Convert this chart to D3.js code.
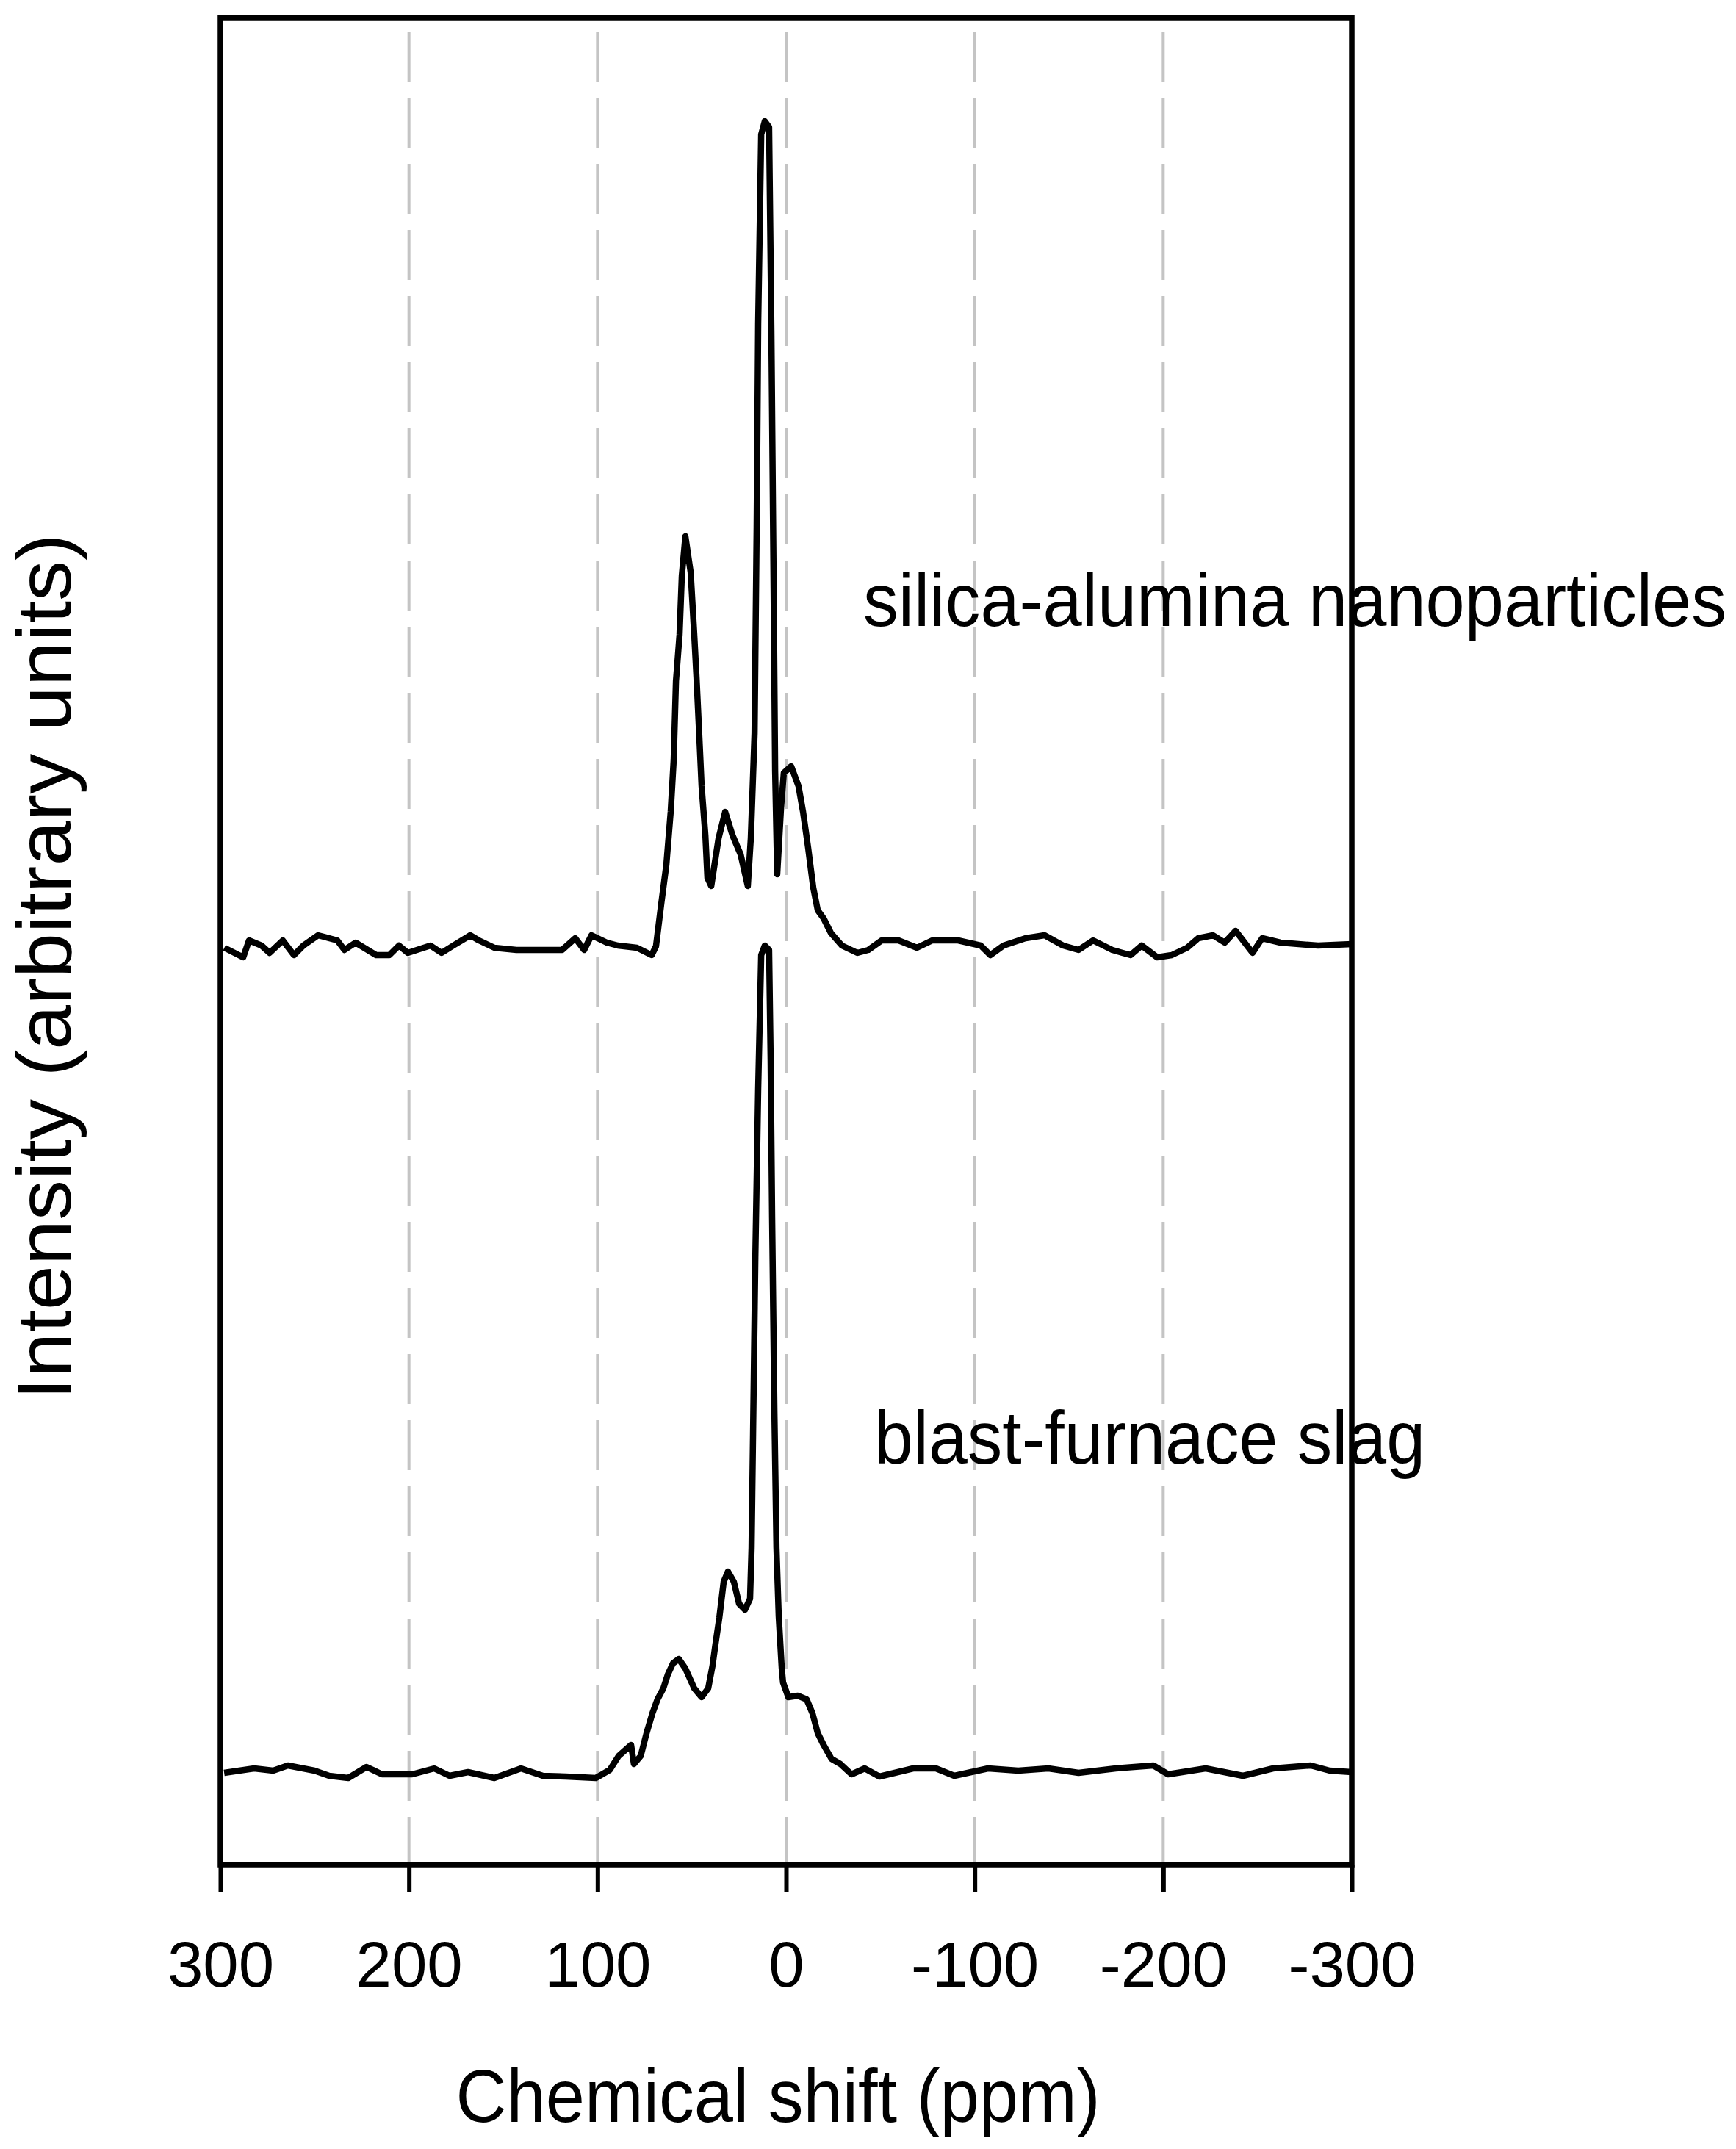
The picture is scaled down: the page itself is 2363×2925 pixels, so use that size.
<!DOCTYPE html>
<html>
<head>
<meta charset="utf-8">
<script src="https://cdn.jsdelivr.net/npm/d3@7"></script>
<style>
  html, body { margin: 0; padding: 0; background: #ffffff; }
  svg { display: block; }
  text { font-family: "Liberation Sans", Arial, sans-serif; fill: #000; }
</style>
</head>
<body>
<script>
// ---------------- data ----------------
const xTickValues = [300, 200, 100, 0, -100, -200, -300];
const gridValues = [200, 100, 0, -100, -200];
const seriesNames = ["silica-alumina nanoparticles", "blast-furnace slag"];
const seriesOffsets = [1251, 125]; // baseline of each trace (arbitrary units)

const silicaPpm = [297.9, 287.9, 284.8, 278.2, 273.9, 266.9, 261.0, 256.0, 248.2, 238.0, 234.2, 228.3, 217.4, 210.4, 205.3, 200.6, 188.6, 182.7, 176.5, 167.5, 162.9, 154.7, 143.0, 129.0, 118.8, 111.8, 107.1, 103.2, 95.1, 89.2, 79.1, 71.3, 69.0, 66.2, 63.5, 61.2, 59.6, 58.4, 56.5, 55.3, 53.4, 50.6, 48.7, 47.5, 46.0, 44.8, 42.8, 41.7, 39.7, 35.8, 32.3, 28.4, 24.1, 20.3, 18.7, 16.7, 15.6, 14.8, 13.2, 11.3, 9.0, 7.8, 6.6, 5.8, 4.7, 2.7, 1.2, -2.7, -6.6, -9.0, -11.7, -14.4, -16.8, -19.9, -23.8, -29.6, -37.8, -43.6, -50.7, -59.6, -69.4, -77.5, -91.2, -103.2, -108.3, -115.3, -127.0, -137.1, -146.9, -155.1, -162.8, -173.0, -182.7, -188.6, -196.8, -204.5, -212.7, -218.6, -226.4, -232.6, -238.4, -247.4, -252.5, -262.2, -282.1, -300.0];
const silicaInt = [-3, -16, 7, 0, -10, 7, -13, 0, 14, 7, -6, 4, -13, -13, 0, -10, 0, -10, 0, 14, 7, -3, -6, -6, -6, 10, -6, 14, 4, 0, -3, -13, -1, 57, 110, 182, 253, 360, 423, 503, 557, 508, 423, 365, 284, 217, 150, 92, 81, 146, 182, 150, 124, 81, 146, 289, 570, 846, 1104, 1122, 1114, 837, 487, 237, 97, 187, 235, 244, 217, 182, 133, 79, 48, 37, 17, 0, -10, -6, 7, 7, -3, 7, 7, 0, -13, 0, 10, 14, 0, -6, 7, -6, -13, 0, -16, -13, -3, 10, 14, 4, 20, -10, 10, 4, 0, 2];

const slagPpm = [298.0, 282.1, 272.0, 264.2, 250.1, 242.3, 232.2, 222.5, 214.3, 198.3, 186.6, 178.5, 168.7, 154.7, 140.6, 129.0, 116.9, 100.9, 93.5, 88.8, 82.2, 80.7, 77.1, 74.0, 70.9, 68.2, 65.1, 62.7, 60.0, 56.9, 53.4, 48.7, 44.8, 41.3, 39.0, 37.4, 35.4, 33.1, 30.8, 27.7, 24.9, 21.8, 19.1, 18.3, 17.5, 16.3, 14.8, 13.2, 11.3, 9.0, 8.2, 7.4, 6.2, 5.1, 3.9, 2.3, 1.6, -1.2, -6.2, -10.9, -14.0, -16.8, -19.9, -24.1, -28.8, -34.7, -41.7, -49.5, -67.4, -79.5, -89.2, -107.1, -123.1, -139.1, -155.1, -174.9, -194.8, -202.6, -222.5, -242.3, -258.3, -278.2, -288.3, -300.0];
const slagInt = [0, 6, 3, 10, 3, -4, -7, 8, -2, -2, 6, -4, 1, -7, 6, -4, -5, -7, 4, 23, 38, 12, 23, 54, 81, 100, 115, 134, 149, 155, 142, 115, 103, 115, 146, 176, 211, 260, 274, 260, 230, 222, 237, 306, 463, 701, 931, 1113, 1126, 1120, 971, 755, 493, 306, 213, 142, 123, 103, 105, 100, 81, 54, 38, 19, 12, -2, 6, -5, 6, 6, -4, 6, 3, 6, 0, 6, 10, -2, 6, -4, 6, 10, 3, 1];

// ---------------- layout ----------------
const W = 2363, H = 2925;
const plot = { left: 300, right: 1840, top: 24, bottom: 2538 };

const svg = d3.select("body").append("svg")
  .attr("width", W).attr("height", H)
  .attr("viewBox", `0 0 ${W} ${H}`);
svg.append("rect").attr("width", W).attr("height", H).attr("fill", "#fff");

const x = d3.scaleLinear().domain([300, -300]).range([plot.left, plot.right]);
const y = d3.scaleLinear().domain([0, 2514]).range([plot.bottom, plot.top]);

// grid lines
svg.append("g").selectAll("line").data(gridValues).join("line")
  .attr("x1", d => x(d)).attr("x2", d => x(d))
  .attr("y1", 43).attr("y2", plot.bottom)
  .attr("stroke", "#c4c4c4").attr("stroke-width", 4)
  .attr("stroke-dasharray", "68,22");

// traces
const line = d3.line().x(d => x(d[0])).y(d => y(d[1]));
const traces = [
  { ppm: silicaPpm, val: silicaInt, off: seriesOffsets[0] },
  { ppm: slagPpm, val: slagInt, off: seriesOffsets[1] }
];
traces.forEach(t => {
  const pts = t.ppm.map((p, i) => [p, t.val[i] + t.off]);
  svg.append("path").datum(pts)
    .attr("d", line)
    .attr("fill", "none").attr("stroke", "#000")
    .attr("stroke-width", 8.5).attr("stroke-linejoin", "round");
});

// frame
svg.append("rect")
  .attr("x", plot.left).attr("y", plot.top)
  .attr("width", plot.right - plot.left).attr("height", plot.bottom - plot.top)
  .attr("fill", "none").attr("stroke", "#000").attr("stroke-width", 7.5);

// x axis
const xAxis = d3.axisBottom(x).tickValues(xTickValues).tickSize(37).tickPadding(67)
  .tickFormat(d => String(d));
const gx = svg.append("g").attr("transform", `translate(0,${plot.bottom})`).call(xAxis);
gx.select(".domain").remove();
gx.selectAll(".tick line").attr("stroke", "#000").attr("stroke-width", 6);
gx.selectAll(".tick text")
  .attr("font-family", "'Liberation Sans', Arial, sans-serif")
  .attr("font-size", 87).attr("fill", "#000");

// axis titles
svg.append("text")
  .attr("x", 1059).attr("y", 2888)
  .attr("text-anchor", "middle")
  .attr("font-size", 102)
  .attr("textLength", 877).attr("lengthAdjust", "spacingAndGlyphs")
  .text("Chemical shift (ppm)");

svg.append("text")
  .attr("transform", "translate(96,1316) rotate(-90)")
  .attr("text-anchor", "middle")
  .attr("font-size", 104)
  .attr("textLength", 1179).attr("lengthAdjust", "spacingAndGlyphs")
  .text("Intensity (arbitrary units)");

// series labels
svg.append("text")
  .attr("x", 1175).attr("y", 852)
  .attr("font-size", 102)
  .attr("textLength", 1175).attr("lengthAdjust", "spacingAndGlyphs")
  .text(seriesNames[0]);
svg.append("text")
  .attr("x", 1190).attr("y", 1992)
  .attr("font-size", 102)
  .attr("textLength", 750).attr("lengthAdjust", "spacingAndGlyphs")
  .text(seriesNames[1]);
</script>
</body>
</html>
